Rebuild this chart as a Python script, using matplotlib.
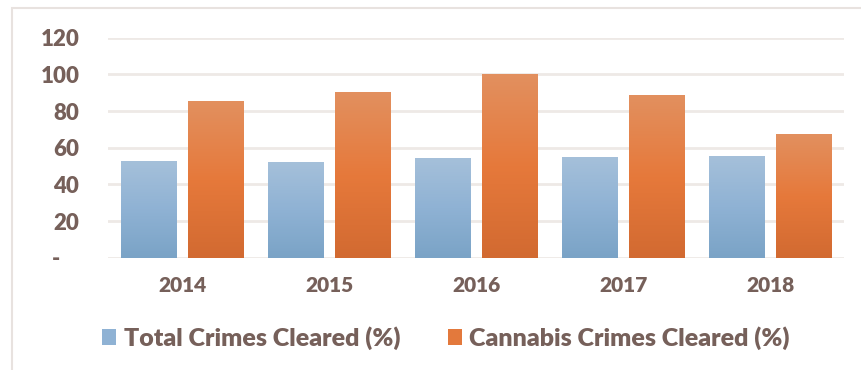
import numpy as np
import matplotlib
matplotlib.use("Agg")
import matplotlib.pyplot as plt
from matplotlib.patches import Rectangle, Patch
from matplotlib.colors import LinearSegmentedColormap
import matplotlib.transforms as mtransforms

years = ["2014", "2015", "2016", "2017", "2018"]
total_cleared = [52.6, 52.2, 54.4, 54.9, 55.5]
cannabis_cleared = [85.5, 90.4, 100.0, 88.7, 67.5]
series_names = ["Total Crimes Cleared (%)", "Cannabis Crimes Cleared (%)"]
y_ticks = [0, 20, 40, 60, 80, 100, 120]
y_tick_labels = ["-", "20", "40", "60", "80", "100", "120"]

TEXT = "#76605a"
GRID = "#eee9e6"
FONT = ["Lato", "DejaVu Sans"]

blue_cmap = LinearSegmentedColormap.from_list(
    "blue_grad", ["#7aa3c6", "#8fb2d4", "#a5c0da"])
orange_cmap = LinearSegmentedColormap.from_list(
    "orange_grad", ["#d26a31", "#e6793b", "#e2905f"])

W, H = 861, 370
fig = plt.figure(figsize=(W / 100, H / 100), dpi=100)
ax = fig.add_axes([108.5 / W, (H - 257.7) / H, 735.5 / W, 220 / H])

x = np.arange(len(years))
bw = 0.374
offset = (bw + 0.082) / 2


def gradient_bars(xs, vals, cmap):
    grad = np.linspace(0, 1, 256).reshape(-1, 1)
    bars = ax.bar(xs, vals, width=bw, color="none", edgecolor="none", zorder=2)
    for b in bars:
        x0, y0 = b.get_x(), b.get_y()
        w, h = b.get_width(), b.get_height()
        im = ax.imshow(grad, cmap=cmap, origin="lower", aspect="auto",
                       extent=[x0, x0 + w, y0, y0 + h], zorder=2)
        im.set_clip_path(b)
    return bars


gradient_bars(x - offset, total_cleared, blue_cmap)
gradient_bars(x + offset, cannabis_cleared, orange_cmap)

ax.set_xlim(-0.5, len(years) - 0.5)
ax.set_ylim(0, 120)
ax.set_yticks(y_ticks)
ax.set_yticklabels(y_tick_labels)
ax.set_xticks(x)
ax.set_xticklabels(years)
ax.yaxis.grid(True, color=GRID, linewidth=2.0, zorder=0)
ax.set_axisbelow(True)
for s in ax.spines.values():
    s.set_visible(False)
ax.tick_params(axis="both", length=0, colors=TEXT)
ax.tick_params(axis="y", pad=21)
ax.tick_params(axis="x", pad=13)
for lab in ax.get_yticklabels():
    lab.set_fontfamily(FONT)
    lab.set_fontweight("heavy")
    lab.set_fontsize(16)
for lab in ax.get_xticklabels():
    lab.set_fontfamily(FONT)
    lab.set_fontweight("heavy")
    lab.set_fontsize(15)
# the zero label sits a little further left
zero = ax.get_yticklabels()[0]
zero.set_transform(zero.get_transform() +
                   mtransforms.ScaledTranslation(-14 / 72, 0, fig.dpi_scale_trans))

handles = [Patch(facecolor="#8fb2d4", edgecolor="none"),
           Patch(facecolor="#e3793c", edgecolor="none")]
leg = fig.legend(handles, series_names, loc="center left",
                 bbox_to_anchor=(102 / W, (H - 338) / H), ncol=2, frameon=False,
                 handlelength=0.56, handleheight=0.56, handletextpad=0.3,
                 columnspacing=1.9, borderaxespad=0, borderpad=0,
                 prop={"family": FONT, "weight": "heavy", "size": 18})
for t in leg.get_texts():
    t.set_color(TEXT)

fig.add_artist(Rectangle((12 / W, -0.1), 1.2, (H - 8) / H + 0.1,
                         transform=fig.transFigure, fill=False,
                         edgecolor="#e8e2df", linewidth=1.5))

fig.savefig("out.png", dpi=100)
